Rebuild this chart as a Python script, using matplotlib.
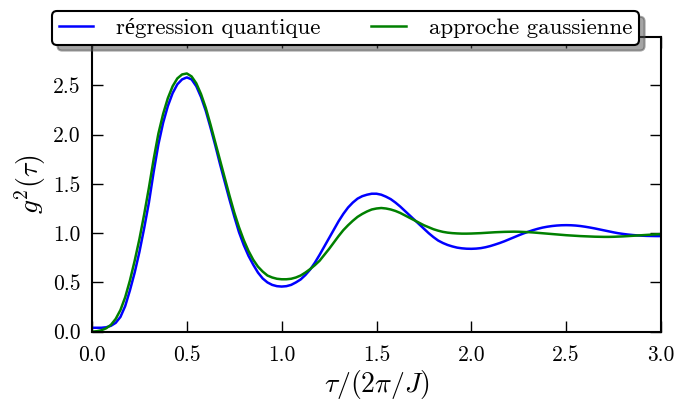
import matplotlib
matplotlib.use("Agg")
import matplotlib.pyplot as plt

plt.rcParams['font.family'] = ['cmr10', 'Liberation Serif', 'DejaVu Serif']
plt.rcParams['mathtext.fontset'] = 'cm'
plt.rcParams['axes.formatter.use_mathtext'] = True

x_vals = [round(0.025 * i, 3) for i in range(121)]

y_blue = [0.04, 0.04, 0.04, 0.045, 0.06, 0.09, 0.15, 0.26, 0.42, 0.60,
          0.81, 1.05, 1.31, 1.62, 1.90, 2.12, 2.29, 2.42, 2.51, 2.56,
          2.58, 2.56, 2.49, 2.38, 2.24, 2.07, 1.89, 1.70, 1.52, 1.34,
          1.17, 1.01, 0.88, 0.77, 0.68, 0.60, 0.54, 0.50, 0.475, 0.462,
          0.458, 0.462, 0.475, 0.50, 0.53, 0.575, 0.63, 0.70, 0.78, 0.865,
          0.95, 1.035, 1.12, 1.195, 1.26, 1.31, 1.35, 1.375, 1.39, 1.40,
          1.40, 1.39, 1.37, 1.345, 1.31, 1.27, 1.225, 1.18, 1.135, 1.09,
          1.045, 1.00, 0.96, 0.925, 0.90, 0.88, 0.865, 0.853, 0.846, 0.842,
          0.841, 0.843, 0.848, 0.857, 0.869, 0.884, 0.90, 0.918, 0.938, 0.958,
          0.978, 0.997, 1.014, 1.03, 1.044, 1.056, 1.065, 1.072, 1.077, 1.08,
          1.081, 1.08, 1.077, 1.072, 1.065, 1.057, 1.048, 1.038, 1.028, 1.018,
          1.008, 0.999, 0.992, 0.986, 0.981, 0.977, 0.974, 0.972, 0.971, 0.970,
          0.970]

y_green = [0.00, 0.005, 0.015, 0.035, 0.07, 0.13, 0.22, 0.35, 0.52, 0.72,
           0.94, 1.19, 1.46, 1.75, 2.01, 2.21, 2.37, 2.49, 2.57, 2.61,
           2.62, 2.59, 2.52, 2.41, 2.27, 2.10, 1.92, 1.74, 1.56, 1.38,
           1.21, 1.06, 0.93, 0.82, 0.73, 0.66, 0.61, 0.57, 0.55, 0.537,
           0.532, 0.532, 0.537, 0.55, 0.57, 0.60, 0.635, 0.675, 0.72, 0.78,
           0.84, 0.905, 0.97, 1.03, 1.08, 1.125, 1.165, 1.195, 1.22, 1.24,
           1.25, 1.255, 1.25, 1.24, 1.225, 1.205, 1.18, 1.155, 1.13, 1.105,
           1.08, 1.06, 1.04, 1.025, 1.013, 1.005, 1.000, 0.997, 0.995, 0.995,
           0.996, 0.998, 1.000, 1.003, 1.006, 1.009, 1.011, 1.013, 1.014, 1.015,
           1.014, 1.012, 1.010, 1.007, 1.003, 0.999, 0.995, 0.991, 0.987, 0.983,
           0.979, 0.976, 0.973, 0.970, 0.968, 0.966, 0.964, 0.963, 0.962, 0.962,
           0.963, 0.965, 0.967, 0.970, 0.973, 0.976, 0.979, 0.982, 0.985, 0.988,
           0.990]

labels = ["régression quantique", "approche gaussienne"]
xticks = [0.0, 0.5, 1.0, 1.5, 2.0, 2.5, 3.0]
yticks = [0.0, 0.5, 1.0, 1.5, 2.0, 2.5]

fig = plt.figure(figsize=(6.76, 4.0), dpi=100)
ax = fig.add_axes([92/676, 1 - 331.7/400, (661 - 92)/676, (331.7 - 37)/400])

ax.plot(x_vals, y_blue, color='blue', lw=1.8, label=labels[0])
ax.plot(x_vals, y_green, color='green', lw=1.8, label=labels[1])

ax.set_xlim(0, 3.0)
ax.set_ylim(0, 2.99)
ax.set_xticks(xticks)
ax.set_yticks(yticks)
ax.set_xticklabels([f"{t:.1f}" for t in xticks])
ax.set_yticklabels([f"{t:.1f}" for t in yticks])
ax.tick_params(direction='in', top=True, right=True, length=8, width=1,
               labelsize=15.5)
ax.tick_params(axis='x', pad=10)
ax.tick_params(axis='y', pad=8)
for s in ax.spines.values():
    s.set_linewidth(1.5)

ax.set_xlabel(r'$\tau/(2\pi/J)$', fontsize=20, labelpad=2)
ax.set_ylabel(r'$g^2(\tau)$', fontsize=20, labelpad=4)

leg = fig.legend(loc='lower left', ncol=2, mode='expand',
                 bbox_to_anchor=(52/676, 1 - 45/400, (639 - 52)/676, 35/400),
                 bbox_transform=fig.transFigure,
                 fontsize=16.5, fancybox=True, framealpha=1,
                 shadow={'ox': 4, 'oy': -4},
                 edgecolor='black', borderaxespad=0, handlelength=1.5,
                 handletextpad=1.0, borderpad=0.3)
leg.get_frame().set_linewidth(1.5)

fig.savefig("out.png", dpi=100)
